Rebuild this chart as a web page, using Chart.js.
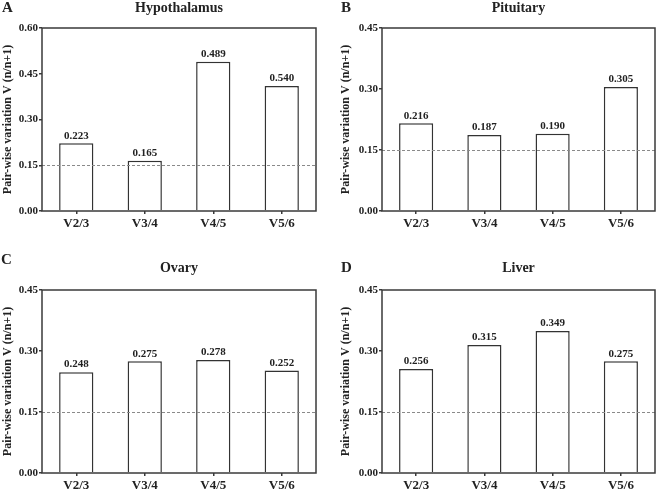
<!DOCTYPE html>
<html>
<head>
<meta charset="utf-8">
<script src="https://cdn.jsdelivr.net/npm/chart.js@4.4.0/dist/chart.umd.min.js"></script>
<style>
  body { margin: 0; background: #fff; }
  .panel { position: absolute; }
</style>
</head>
<body>
<div class="panel" style="left:0;top:0;width:329px;height:245px"><canvas id="chartA"></canvas></div>
<div class="panel" style="left:329px;top:0;width:329px;height:245px"><canvas id="chartB"></canvas></div>
<div class="panel" style="left:0;top:245px;width:329px;height:244px"><canvas id="chartC"></canvas></div>
<div class="panel" style="left:329px;top:245px;width:329px;height:244px"><canvas id="chartD"></canvas></div>
<script>
// data
var categories = ["V2/3", "V3/4", "V4/5", "V5/6"];
var threshold = 0.15;

var hypothalamusValues = [0.222, 0.165, 0.489, 0.410];
var hypothalamusLabels = ["0.223", "0.165", "0.489", "0.540"];
var hypothalamusTicks = [0, 0.15, 0.30, 0.45, 0.60];

var pituitaryValues = [0.216, 0.187, 0.190, 0.305];
var pituitaryLabels = ["0.216", "0.187", "0.190", "0.305"];

var ovaryValues = [0.248, 0.275, 0.278, 0.252];
var ovaryLabels = ["0.248", "0.275", "0.278", "0.252"];

var liverValues = [0.256, 0.315, 0.349, 0.275];
var liverLabels = ["0.256", "0.315", "0.349", "0.275"];

var smallTicks = [0, 0.15, 0.30, 0.45];

var SERIF = "'Liberation Serif', 'Times New Roman', serif";
var AXIS = "#3a3a3a";

/* plugin: box, dashed threshold line, bar value labels, title, panel letter */
var decor = {
  id: 'decor',
  afterDatasetsDraw: function (chart, args, opts) {
    var ctx = chart.ctx, a = chart.chartArea;
    var y = chart.scales.y.getPixelForValue(threshold);
    ctx.save();
    ctx.strokeStyle = "#8a8a8a";
    ctx.lineWidth = 1;
    ctx.setLineDash([3, 2]);
    ctx.beginPath();
    ctx.moveTo(a.left, Math.round(y) + 0.5);
    ctx.lineTo(a.right, Math.round(y) + 0.5);
    ctx.stroke();
    ctx.setLineDash([]);

    // frame
    ctx.strokeStyle = AXIS;
    ctx.lineWidth = 1.5;
    ctx.strokeRect(a.left, a.top, a.right - a.left, a.bottom - a.top);

    // value labels
    ctx.fillStyle = "#222";
    ctx.font = "bold 11px " + SERIF;
    ctx.textAlign = "center";
    ctx.textBaseline = "bottom";
    chart.getDatasetMeta(0).data.forEach(function (bar, i) {
      ctx.fillText(opts.labels[i], bar.x, bar.y - 2);
    });

    // title
    ctx.font = "bold 14px " + SERIF;
    ctx.textBaseline = "middle";
    ctx.fillText(opts.title, (a.left + a.right) / 2, opts.titleY);

    // letter
    ctx.textAlign = "left";
    ctx.font = "bold 15px " + SERIF;
    ctx.fillText(opts.letter, opts.letterX, opts.letterY);
    ctx.restore();
  }
};

function makeChart(id, values, labels, ticks, g) {
  var max = ticks[ticks.length - 1];
  return new Chart(document.getElementById(id), {
    type: 'bar',
    data: {
      labels: categories,
      datasets: [{
        data: values,
        backgroundColor: "#ffffff",
        borderColor: "#333333",
        borderWidth: 1.5,
        barPercentage: 0.5,
        categoryPercentage: 1
      }]
    },
    options: {
      responsive: true,
      maintainAspectRatio: false,
      animation: false,
      layout: { padding: { left: 0, top: g.top, right: g.right, bottom: 0 } },
      plugins: {
        legend: { display: false },
        tooltip: { enabled: false },
        decor: { labels: labels, title: g.title, titleY: g.titleY, letter: g.letter, letterX: g.letterX, letterY: g.letterY }
      },
      scales: {
        x: {
          grid: { display: true, offset: false, drawOnChartArea: false, tickLength: 3, color: AXIS, lineWidth: 1.5 },
          border: { display: false },
          ticks: { color: "#222", padding: 2, font: { family: SERIF, size: 13, weight: 'bold' } },
          afterFit: function (s) { s.height = g.xh; }
        },
        y: {
          min: 0,
          max: max,
          afterBuildTicks: function (s) { s.ticks = ticks.map(function (v) { return { value: v }; }); },
          grid: { display: true, drawOnChartArea: false, tickLength: 3, color: AXIS, lineWidth: 1.5 },
          border: { display: false },
          ticks: {
            color: "#222",
            padding: 1,
            font: { family: SERIF, size: 11, weight: 'bold' },
            callback: function (v) { return v.toFixed(2); }
          },
          title: {
            display: true,
            text: "Pair-wise variation V (n/n+1)",
            color: "#222",
            padding: { top: g.ytPad, bottom: 0 },
            font: { family: SERIF, size: 12, weight: 'bold' }
          },
          afterFit: function (s) { s.width = g.left; }
        }
      }
    },
    plugins: [decor]
  });
}

makeChart("chartA", hypothalamusValues, hypothalamusLabels, hypothalamusTicks,
  { left: 42, right: 13, top: 28, xh: 34, ytPad: 1, title: "Hypothalamus", titleY: 8, letter: "A", letterX: 2, letterY: 8 });
makeChart("chartB", pituitaryValues, pituitaryLabels, smallTicks,
  { left: 53, right: 3, top: 28, xh: 34, ytPad: 10, title: "Pituitary", titleY: 8, letter: "B", letterX: 12, letterY: 8 });
makeChart("chartC", ovaryValues, ovaryLabels, smallTicks,
  { left: 42, right: 13, top: 45, xh: 16, ytPad: 1, title: "Ovary", titleY: 23, letter: "C", letterX: 1, letterY: 15 });
makeChart("chartD", liverValues, liverLabels, smallTicks,
  { left: 53, right: 3, top: 45, xh: 16, ytPad: 10, title: "Liver", titleY: 23, letter: "D", letterX: 12, letterY: 23 });
</script>
</body>
</html>
